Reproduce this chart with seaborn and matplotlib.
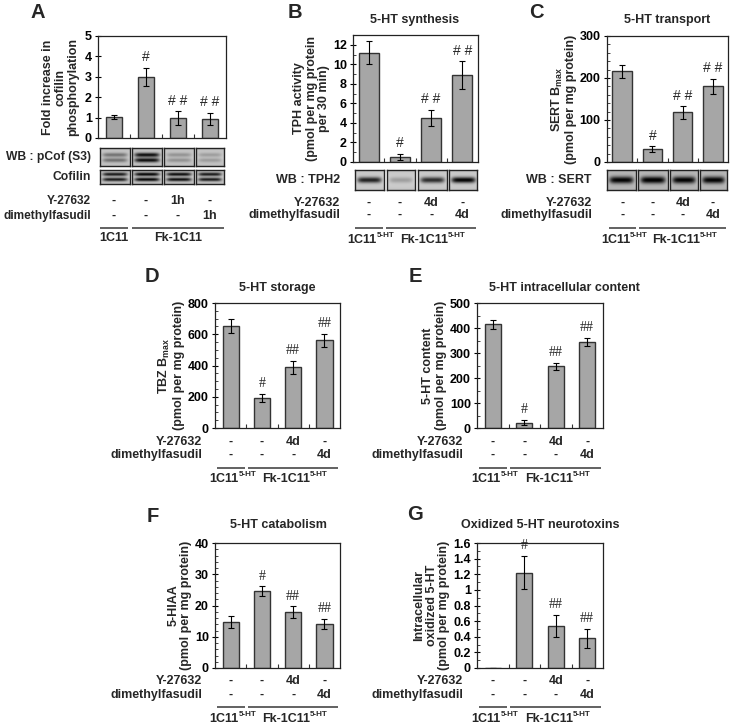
import numpy as np
import pandas as pd
import matplotlib
matplotlib.use("Agg")
import matplotlib.pyplot as plt
import matplotlib.transforms as mtransforms
from matplotlib.ticker import MultipleLocator
import seaborn as sns

# ---------------- data ----------------
lanes = ["lane1", "lane2", "lane3", "lane4"]

a_vals = [1.02, 3.0, 0.97, 0.95]
a_err = [0.10, 0.45, 0.33, 0.30]
b_vals = [11.2, 0.55, 4.5, 8.9]
b_err = [1.2, 0.3, 0.85, 1.4]
c_vals = [216, 31, 118, 180]
c_err = [15, 7, 15, 18]
d_vals = [655, 192, 388, 561]
d_err = [45, 28, 40, 43]
e_vals = [415, 21, 247, 344]
e_err = [17, 10, 13, 15]
f_vals = [14.8, 24.6, 17.9, 14.2]
f_err = [1.9, 1.5, 1.8, 1.6]
g_vals = [0.0, 1.22, 0.54, 0.38]
g_err = [0.0, 0.215, 0.14, 0.125]

sig_abc = ["", "#", "# #", "# #"]
sig_dg = ["", "#", "##", "##"]

y27632_1h = ["-", "-", "1h", "-"]
fasudil_1h = ["-", "-", "-", "1h"]
y27632_4d = ["-", "-", "4d", "-"]
fasudil_4d = ["-", "-", "-", "4d"]

a_ticks = [0, 1, 2, 3, 4, 5]
b_ticks = [0, 2, 4, 6, 8, 10, 12]
c_ticks = [0, 100, 200, 300]
d_ticks = [0, 200, 400, 600, 800]
e_ticks = [0, 100, 200, 300, 400, 500]
f_ticks = [0, 10, 20, 30, 40]
g_ticks = [0, 0.2, 0.4, 0.6, 0.8, 1.0, 1.2, 1.4, 1.6]
g_ticklabels = ["0", "0.2", "0.4", "0.6", "0.8", "1", "1.2", "1.4", "1.6"]

# western blot band intensities (0..1) per lane
pcof_band = [0.35, 0.75, 0.22, 0.18]
cofilin_band = [0.70, 0.78, 0.75, 0.70]
tph2_band = [0.70, 0.20, 0.65, 0.82]
sert_band = [0.75, 0.78, 0.75, 0.75]

# ---------------- style ----------------
sns.set_theme(style="white")
plt.rcParams["font.family"] = ["Liberation Sans", "DejaVu Sans"]
plt.rcParams["font.weight"] = "bold"
plt.rcParams["axes.labelweight"] = "bold"
plt.rcParams["mathtext.fontset"] = "custom"
plt.rcParams["mathtext.rm"] = "Liberation Sans:bold"
plt.rcParams["mathtext.bf"] = "Liberation Sans:bold"
plt.rcParams["mathtext.it"] = "Liberation Sans:bold:italic"

W, H = 733, 724
fig = plt.figure(figsize=(W / 100, H / 100), dpi=100)
FS = 9.0
BAR = "#a6a6a6"
EDGE = "#333333"


def fx(px):
    return px / W


def fy(py):
    return 1 - py / H


def add_ax(l, t, r, b):
    return fig.add_axes([fx(l), fy(b), fx(r) - fx(l), (b - t) / H])


def bar_panel(box, vals, errs, sigs, ticks, ticklabels, top, minor, ylabel,
              width, sigfont, labelpad=2):
    ax = add_ax(*box)
    df = pd.DataFrame({"lane": lanes, "value": vals})
    sns.barplot(data=df, x="lane", y="value", ax=ax, color=BAR, saturation=1,
                edgecolor=EDGE, linewidth=1.0, width=width, errorbar=None)
    ax.errorbar(range(len(vals)), vals, yerr=errs, fmt="none", ecolor="black",
                elinewidth=0.8, capsize=2, capthick=0.8)
    for i, (v, e, s) in enumerate(zip(vals, errs, sigs)):
        if s:
            ax.annotate(s, (i, v + e), xytext=(0, 7.5), textcoords="offset points",
                        ha="center", va="center", fontsize=10,
                        family=sigfont, fontweight="normal")
    ax.set_xlim(-0.5, 3.5)
    ax.set_ylim(0, top)
    ax.set_xticks([0.5, 1.5, 2.5])
    ax.set_xticklabels([])
    ax.tick_params(axis="x", direction="in", length=3, width=0.8, bottom=True,
                   colors="#333333")
    ax.set_yticks(ticks)
    ax.set_yticklabels(ticklabels if ticklabels else [str(t) for t in ticks],
                       fontsize=FS, fontweight="bold")
    if minor:
        ax.yaxis.set_minor_locator(MultipleLocator(minor))
    ax.tick_params(axis="y", which="major", direction="inout", length=5,
                   width=0.8, left=True, pad=2, colors="black")
    ax.tick_params(axis="y", which="minor", direction="in", length=2.5,
                   width=0.6, left=True)
    ax.set_xlabel("")
    ax.set_ylabel(ylabel, fontsize=FS, fontweight="bold", linespacing=1.05,
                  labelpad=labelpad)
    for sp in ax.spines.values():
        sp.set_visible(True)
        sp.set_color("#222222")
        sp.set_linewidth(0.9)
    return ax


def treatments(ax, xlab_px, y1, y2, row1, row2, yline, ylab, groups, sups,
               labfs=FS):
    tr = mtransforms.blended_transform_factory(ax.transData, fig.transFigure)
    fig.text(fx(xlab_px), fy(y1), "Y-27632", ha="right", va="center",
             fontsize=labfs)
    fig.text(fx(xlab_px), fy(y2), "dimethylfasudil", ha="right", va="center",
             fontsize=labfs)
    for i, (a, b) in enumerate(zip(row1, row2)):
        ax.text(i, fy(y1), a, transform=tr, ha="center", va="center", fontsize=FS)
        ax.text(i, fy(y2), b, transform=tr, ha="center", va="center", fontsize=FS)
    for (x0, x1) in [(-0.45, 0.45), (0.55, 3.45)]:
        ax.plot([x0, x1], [fy(yline), fy(yline)], transform=tr, color="#555555",
                lw=1.3, clip_on=False, solid_capstyle="butt")
    for xc, g, s in zip([0.0, 2.0], groups, sups):
        shift = -0.22 if s else 0.0
        t = ax.text(xc + shift, fy(ylab), g, transform=tr, ha="center",
                    va="center", fontsize=FS)
        if s:
            ax.annotate(s, xy=(1.0, 0.55), xycoords=t, ha="left", va="bottom",
                        fontsize=5.8, annotation_clip=False)


def blot(box, intensities, rows, bw, bg, lanes_px):
    l, t, r, b = box
    for (x0, x1), inten in zip(lanes_px, intensities):
        bax = add_ax(x0, t, x1, b)
        h, w = 40, 60
        yy = np.linspace(0, 1, h)[:, None]
        xx = np.linspace(0, 1, w)[None, :]
        img = np.full((h, w), bg) + 0.06 * (np.abs(yy - 0.5) * 2) ** 2
        xprof = np.exp(-((xx - 0.5) / 0.42) ** 6)
        for rr in rows:
            img = img + inten * np.exp(-((yy - rr) / bw) ** 2) * xprof
        bax.imshow(np.clip(img, 0, 1), cmap="gray_r", vmin=0, vmax=1,
                   aspect="auto", interpolation="bilinear")
        bax.set_xticks([])
        bax.set_yticks([])
        for sp in bax.spines.values():
            sp.set_visible(True)
            sp.set_color("#222222")
            sp.set_linewidth(1.0)


def letter(x, y, s):
    fig.text(fx(x), fy(y), s, ha="center", va="center", fontsize=14.5,
             fontweight="bold")


def title(x, y, s):
    fig.text(fx(x), fy(y), s, ha="center", va="center", fontsize=FS)


SANS = "Liberation Sans"
SERIF = "Liberation Serif"

# ---------------- Panel A ----------------
axA = bar_panel((98, 36, 226, 138), a_vals, a_err, sig_abc, a_ticks, None, 5,
                None, "Fold increase in\ncofilin\nphosphorylation", 0.5, SANS,
                labelpad=4)
A_lanes = [(100, 130), (132, 162), (164, 194), (196, 224)]
blot((98, 148, 226, 166), pcof_band, [0.38, 0.68], 0.12, 0.2, A_lanes)
blot((98, 170, 226, 184), cofilin_band, [0.3, 0.68], 0.13, 0.2, A_lanes)
fig.text(fx(91), fy(157), "WB : pCof (S3)", ha="right", va="center", fontsize=8.7)
fig.text(fx(91), fy(177), "Cofilin", ha="right", va="center", fontsize=8.7)
treatments(axA, 91, 201, 216, y27632_1h, fasudil_1h, 228, 238,
           ["1C11", "Fk-1C11"], ["", ""], labfs=8.6)
letter(38, 13, "A")

# ---------------- Panel B ----------------
axB = bar_panel((353, 35, 478, 162), b_vals, b_err, sig_abc, b_ticks, None, 13,
                1, "TPH activity\n(pmol per mg protein\nper 30 min)", 0.64, SANS)
blot((353, 170, 478, 190), tph2_band, [0.5], 0.15, 0.18,
     [(355, 384), (387, 415), (418, 447), (449, 477)])
fig.text(fx(340), fy(180), "WB : TPH2", ha="right", va="center", fontsize=FS)
treatments(axB, 340, 203, 215, y27632_4d, fasudil_4d, 228, 240,
           ["1C11", "Fk-1C11"], ["5-HT", "5-HT"])
title(415, 20, "5-HT synthesis")
letter(295, 12, "B")

# ---------------- Panel C ----------------
axC = bar_panel((607, 36, 728, 162), c_vals, c_err, sig_abc, c_ticks, None, 300,
                20, "SERT B$_{\\mathrm{max}}$\n(pmol per mg protein)", 0.64, SANS)
blot((607, 170, 728, 190), sert_band, [0.5], 0.18, 0.25,
     [(607, 636), (638, 668), (670, 698), (700, 727)])
fig.text(fx(592), fy(180), "WB : SERT", ha="right", va="center", fontsize=FS)
treatments(axC, 592, 203, 215, y27632_4d, fasudil_4d, 228, 240,
           ["1C11", "Fk-1C11"], ["5-HT", "5-HT"])
title(667, 20, "5-HT transport")
letter(536, 12, "C")

# ---------------- Panel D ----------------
axD = bar_panel((215, 303, 340, 428), d_vals, d_err, sig_dg, d_ticks, None, 800,
                50, "TBZ B$_{\\mathrm{max}}$\n(pmol per mg protein)", 0.52, SERIF)
treatments(axD, 202, 442, 455, y27632_4d, fasudil_4d, 468, 479,
           ["1C11", "Fk-1C11"], ["5-HT", "5-HT"])
title(277, 288, "5-HT storage")
letter(152, 277, "D")

# ---------------- Panel E ----------------
axE = bar_panel((477, 303, 603, 428), e_vals, e_err, sig_dg, e_ticks, None, 500,
                50, "5-HT content\n(pmol per mg protein)", 0.52, SERIF)
treatments(axE, 463, 442, 455, y27632_4d, fasudil_4d, 468, 479,
           ["1C11", "Fk-1C11"], ["5-HT", "5-HT"])
title(564, 288, "5-HT intracellular content")
letter(415, 277, "E")

# ---------------- Panel F ----------------
axF = bar_panel((215, 543, 340, 668), f_vals, f_err, sig_dg, f_ticks, None, 40,
                2, "5-HIAA\n(pmol per mg protein)", 0.52, SERIF)
treatments(axF, 202, 681, 695, y27632_4d, fasudil_4d, 707, 719,
           ["1C11", "Fk-1C11"], ["5-HT", "5-HT"])
title(278, 525, "5-HT catabolism")
letter(153, 517, "F")

# ---------------- Panel G ----------------
axG = bar_panel((477, 543, 603, 668), g_vals, g_err, sig_dg, g_ticks,
                g_ticklabels, 1.6, 0.1,
                "Intracellular\noxidized 5-HT\n(pmol per mg protein)", 0.52, SERIF)
treatments(axG, 463, 681, 695, y27632_4d, fasudil_4d, 707, 719,
           ["1C11", "Fk-1C11"], ["5-HT", "5-HT"])
title(540, 525, "Oxidized 5-HT neurotoxins")
letter(415, 515, "G")

fig.savefig("out.png", dpi=100, facecolor="white")
